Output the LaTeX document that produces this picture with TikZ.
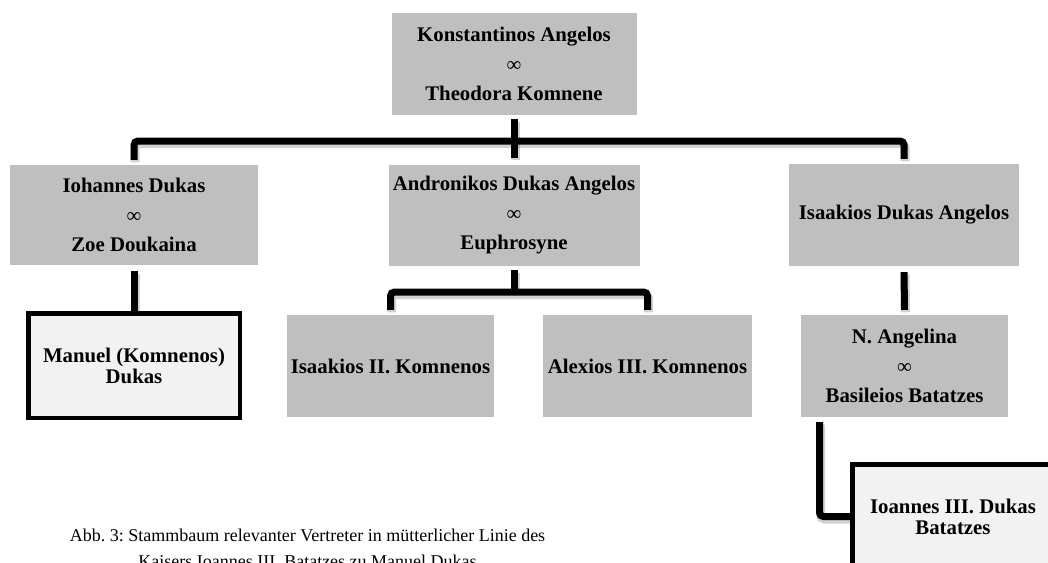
\documentclass[tikz,border=0pt]{standalone}
\usepackage{fontspec}
\setmainfont{Liberation Serif}
\frenchspacing
\begin{document}
\begin{tikzpicture}[x=1pt,y=-1pt,
  person/.style={fill=boxgray, inner sep=0pt, align=center,
    font=\fontsize{20.8}{29.5}\selectfont\bfseries, text=black},
  leaf/.style={fill=leafgray, draw=black, line width=4.5pt, inner sep=0pt, align=center,
    font=\fontsize{20.8}{21}\selectfont\bfseries},
  conn/.style={draw=black, line width=7pt, rounded corners=4pt,
    preaction={draw=black, opacity=0.18, line width=9pt, transform canvas={shift={(1pt,-2.5pt)}}}},
  captiontext/.style={font=\fontsize{18}{26}\selectfont, align=center, inner sep=0pt}
]
\definecolor{boxgray}{RGB}{191,191,191}
\definecolor{leafgray}{RGB}{242,242,242}
\useasboundingbox (0,0) rectangle (1048,562);
\clip (0,0) rectangle (1048,562);

\node[person, minimum width=245pt, minimum height=102pt] (top) at (514,64)
  {Konstantinos Angelos\\{\mdseries ∞}\\Theodora Komnene};
\node[person, minimum width=248pt, minimum height=100pt] (ioh) at (134,215)
  {Iohannes Dukas\\{\mdseries ∞}\\Zoe Doukaina};
\node[person, minimum width=251pt, minimum height=101pt] (andr) at (514,215.5)
  {Andronikos Dukas Angelos\\{\mdseries ∞}\\Euphrosyne};
\node[person, minimum width=230pt, minimum height=102pt] (isD) at (904,215)
  {Isaakios Dukas Angelos};

\node[leaf, minimum width=211.5pt, minimum height=104.5pt] (manuel) at (134,365.5)
  {Manuel (Komnenos)\\Dukas};
\node[person, minimum width=207pt, minimum height=102pt] (isII) at (390.5,366)
  {Isaakios II. Komnenos};
\node[person, minimum width=209pt, minimum height=102pt] (alex) at (647.5,366)
  {Alexios III. Komnenos};
\node[person, minimum width=207pt, minimum height=102pt] (nang) at (904.5,366)
  {N. Angelina\\{\mdseries ∞}\\Basileios Batatzes};
\node[leaf, minimum width=201pt, minimum height=104.5pt] (ioannes) at (953,516.5)
  {Ioannes III. Dukas\\Batatzes};

\coordinate (j1) at (514,141);
\coordinate (j2) at (514,292);

\draw[conn] ([yshift=5pt]ioh.north) |- (j1) -| ([yshift=5pt]isD.north);
\draw[conn] ([yshift=-4pt]top.south) -- ([yshift=7pt]andr.north);
\draw[conn] ([yshift=-6pt]ioh.south) -- (manuel.north);
\draw[conn] ([yshift=5pt]isII.north) |- (j2) -| ([yshift=5pt]alex.north);
\draw[conn] ([yshift=-4pt]andr.south) -- (j2);
\draw[conn] ([yshift=-6pt]isD.south) -- ([yshift=5pt]nang.north);
\draw[conn] ([xshift=-85pt,yshift=-5pt]nang.south) |- (ioannes.west);

\node[captiontext, anchor=north] (caption) at (307.5,529)
  {Abb. 3: Stammbaum relevanter Vertreter in mütterlicher Linie des\\
   Kaisers Ioannes III. Batatzes zu Manuel Dukas};
\end{tikzpicture}
\end{document}
